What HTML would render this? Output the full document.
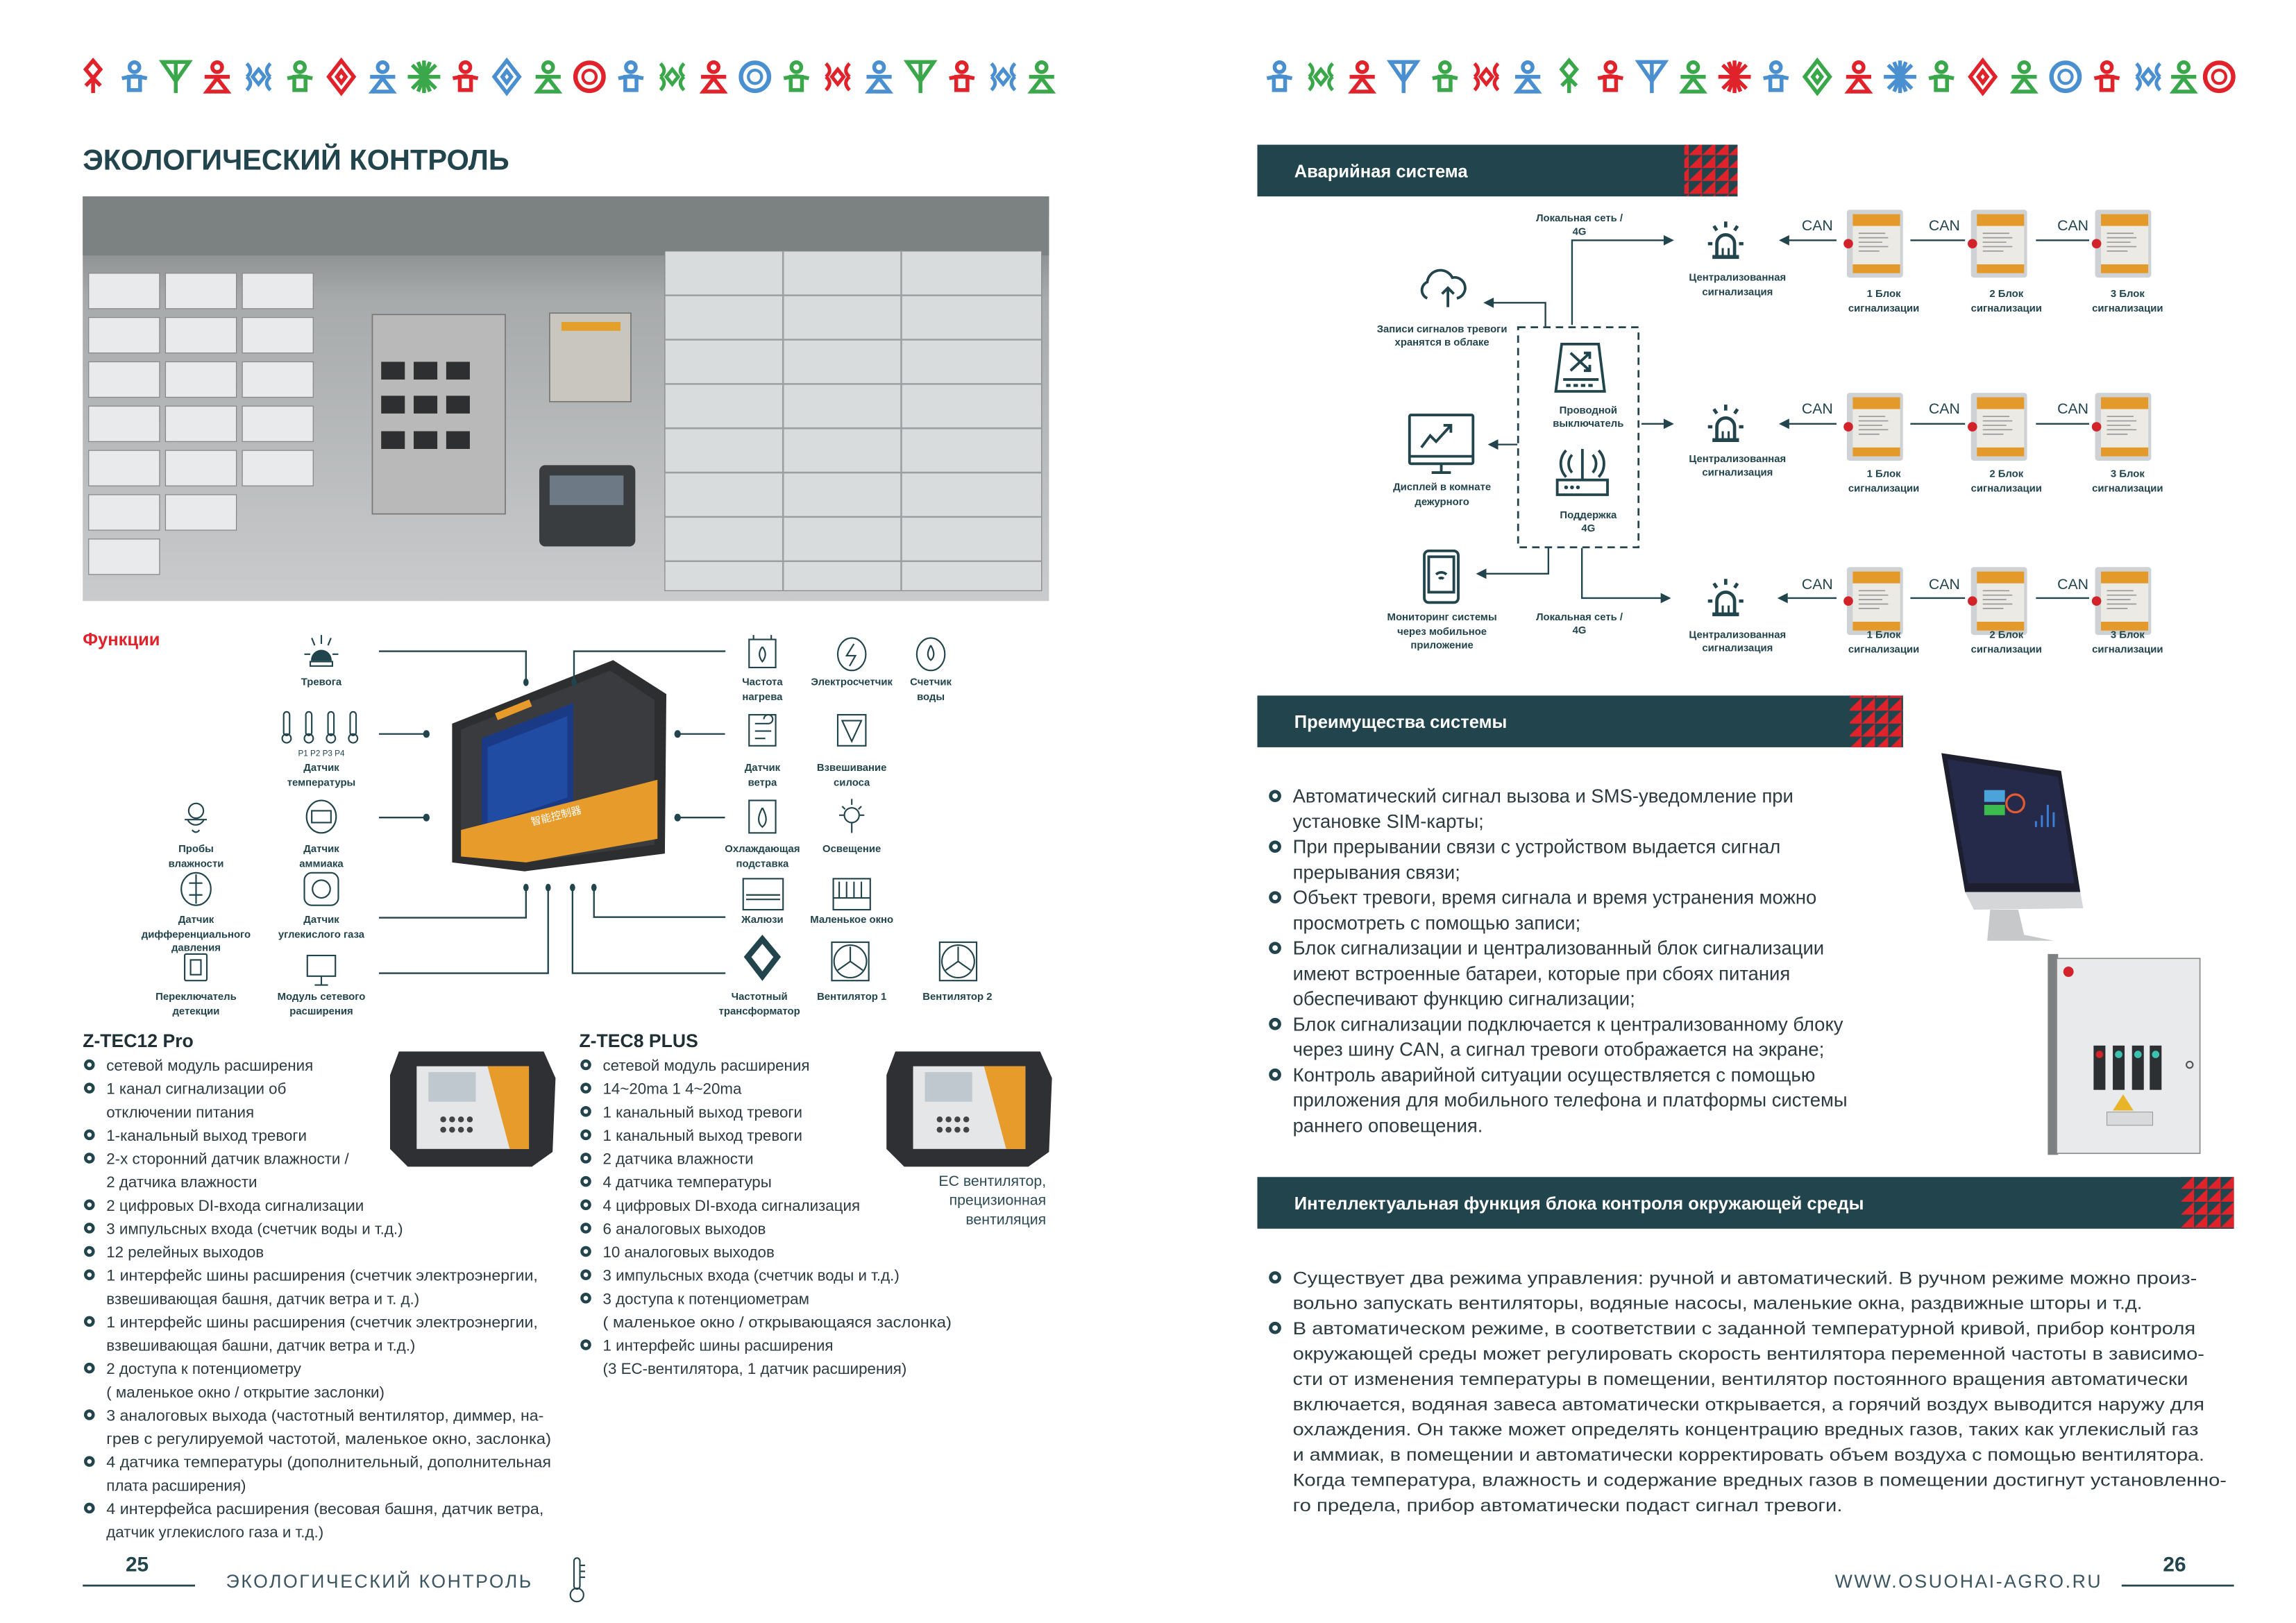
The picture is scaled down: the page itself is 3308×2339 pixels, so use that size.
<!DOCTYPE html>
<html><head><meta charset="utf-8"><style>
html,body{margin:0;padding:0;background:#fff;width:3308px;height:2339px;overflow:hidden}
svg{display:block}
text{font-family:"Liberation Sans",sans-serif}
</style></head><body>
<svg width="3308" height="2339" viewBox="0 0 1554 1099" preserveAspectRatio="none" xmlns="http://www.w3.org/2000/svg">
<defs>
<pattern id="tri" width="9" height="8.75" patternUnits="userSpaceOnUse">
<rect width="9" height="8.75" fill="#21444d"/><polygon points="9,0 9,8.75 0,8.75" fill="#e0222a"/></pattern>
<g id="pb" fill="none" stroke-width="2.6"><circle cx="0" cy="-6.5" r="3.3"/><path d="M-8.5 1 L0 -0.5 L8.5 1"/><rect x="-3.8" y="0" width="7.6" height="9"/></g>
<g id="pt" fill="none" stroke-width="2.6"><circle cx="0" cy="-6.5" r="3.3"/><path d="M-8.5 0 L8.5 0"/><polygon points="-7,10 7,10 0,1"/></g>
<g id="dm" fill="none" stroke-width="2.6"><polygon points="0,-11 8.5,0 0,11 -8.5,0"/><polygon points="0,-4 3,0 0,4 -3,0"/></g>
<g id="st" stroke-width="2.6"><path d="M0 -11V11M-11 0H11M-8 -8L8 8M-8 8L8 -8M-4 -10L4 10M4 -10L-4 10"/></g>
<g id="rn" fill="none" stroke-width="2.6"><polygon points="0,-11 5,-5 0,1 -5,-5"/><path d="M0 1V11M-5 6L0 1L5 6"/></g>
<g id="ci" fill="none" stroke-width="3"><circle r="9.5"/><circle r="4.5" stroke-width="2"/></g>
<g id="yy" fill="none" stroke-width="2.6"><polygon points="-9,-10 9,-10 0,3"/><path d="M0 -10V11"/></g>
<g id="sf" fill="none" stroke-width="2.4"><path d="M-8 -9 Q-3 -4 -8 0 M8 -9 Q3 -4 8 0 M-8 9 Q-3 4 -8 0 M8 9 Q3 4 8 0"/><polygon points="0,-5 4,0 0,5 -4,0"/></g>
<g id="blk"><rect x="0" y="0" width="38" height="46" rx="2" fill="#cfd2d4"/><rect x="4" y="3" width="32" height="40" fill="#eceae4"/><rect x="4" y="3" width="32" height="8" fill="#e39a2b"/><rect x="4" y="37" width="32" height="6" fill="#e39a2b"/><path d="M8 16h18M8 19h20M8 22h16M8 25h20M8 28h14" stroke="#999" stroke-width="0.8"/><circle cx="1" cy="23" r="3.2" fill="#d2232a"/></g>
<g id="bulb" fill="none" stroke="#21444d" stroke-width="2.2"><path d="M-6 9 V1 A6 6 0 0 1 6 1 V9"/><path d="M-9 10H9" stroke-width="2.6"/><path d="M0 -14V-10M-8 -11L-6 -8M8 -11L6 -8M-12 1H-9M9 1H12"/><path d="M-2 9V4M2 9V4" stroke-width="1.4"/></g>
</defs>

<g>
<use href="#rn" x="63" y="52" stroke="#e0222a"/>
<use href="#pb" x="91" y="52" stroke="#4a8fcf"/>
<use href="#yy" x="119" y="52" stroke="#3aa84a"/>
<use href="#pt" x="147" y="52" stroke="#e0222a"/>
<use href="#sf" x="175" y="52" stroke="#4a8fcf"/>
<use href="#pb" x="203" y="52" stroke="#3aa84a"/>
<use href="#dm" x="231" y="52" stroke="#e0222a"/>
<use href="#pt" x="259" y="52" stroke="#4a8fcf"/>
<use href="#st" x="287" y="52" stroke="#3aa84a"/>
<use href="#pb" x="315" y="52" stroke="#e0222a"/>
<use href="#dm" x="343" y="52" stroke="#4a8fcf"/>
<use href="#pt" x="371" y="52" stroke="#3aa84a"/>
<use href="#ci" x="399" y="52" stroke="#e0222a"/>
<use href="#pb" x="427" y="52" stroke="#4a8fcf"/>
<use href="#sf" x="455" y="52" stroke="#3aa84a"/>
<use href="#pt" x="483" y="52" stroke="#e0222a"/>
<use href="#ci" x="511" y="52" stroke="#4a8fcf"/>
<use href="#pb" x="539" y="52" stroke="#3aa84a"/>
<use href="#sf" x="567" y="52" stroke="#e0222a"/>
<use href="#pt" x="595" y="52" stroke="#4a8fcf"/>
<use href="#yy" x="623" y="52" stroke="#3aa84a"/>
<use href="#pb" x="651" y="52" stroke="#e0222a"/>
<use href="#sf" x="679" y="52" stroke="#4a8fcf"/>
<use href="#pt" x="705" y="52" stroke="#3aa84a"/>
</g>
<g>
<use href="#pb" x="866" y="52" stroke="#4a8fcf"/>
<use href="#sf" x="894" y="52" stroke="#3aa84a"/>
<use href="#pt" x="922" y="52" stroke="#e0222a"/>
<use href="#yy" x="950" y="52" stroke="#4a8fcf"/>
<use href="#pb" x="978" y="52" stroke="#3aa84a"/>
<use href="#sf" x="1006" y="52" stroke="#e0222a"/>
<use href="#pt" x="1034" y="52" stroke="#4a8fcf"/>
<use href="#rn" x="1062" y="52" stroke="#3aa84a"/>
<use href="#pb" x="1090" y="52" stroke="#e0222a"/>
<use href="#yy" x="1118" y="52" stroke="#4a8fcf"/>
<use href="#pt" x="1146" y="52" stroke="#3aa84a"/>
<use href="#st" x="1174" y="52" stroke="#e0222a"/>
<use href="#pb" x="1202" y="52" stroke="#4a8fcf"/>
<use href="#dm" x="1230" y="52" stroke="#3aa84a"/>
<use href="#pt" x="1258" y="52" stroke="#e0222a"/>
<use href="#st" x="1286" y="52" stroke="#4a8fcf"/>
<use href="#pb" x="1314" y="52" stroke="#3aa84a"/>
<use href="#dm" x="1342" y="52" stroke="#e0222a"/>
<use href="#pt" x="1370" y="52" stroke="#3aa84a"/>
<use href="#ci" x="1398" y="52" stroke="#4a8fcf"/>
<use href="#pb" x="1426" y="52" stroke="#e0222a"/>
<use href="#sf" x="1454" y="52" stroke="#4a8fcf"/>
<use href="#pt" x="1478" y="52" stroke="#3aa84a"/>
<use href="#ci" x="1502" y="52" stroke="#e0222a"/>
</g>

<text x="56" y="115" font-size="19.5" font-weight="bold" fill="#21444d">ЭКОЛОГИЧЕСКИЙ КОНТРОЛЬ</text>

<defs><linearGradient id="ph" x1="0" y1="0" x2="0" y2="1"><stop offset="0" stop-color="#6f7475"/><stop offset="0.25" stop-color="#a7aaab"/><stop offset="1" stop-color="#c9cbcc"/></linearGradient></defs>
<rect x="56" y="133" width="654" height="274" fill="url(#ph)"/>
<rect x="56" y="133" width="654" height="40" fill="#7c8182"/>
<g fill="#e8eaeb" stroke="#888" stroke-width="0.6">
<rect x="60" y="185" width="48" height="24"/><rect x="112" y="185" width="48" height="24"/><rect x="164" y="185" width="48" height="24"/>
<rect x="60" y="215" width="48" height="24"/><rect x="112" y="215" width="48" height="24"/><rect x="164" y="215" width="48" height="24"/>
<rect x="60" y="245" width="48" height="24"/><rect x="112" y="245" width="48" height="24"/><rect x="164" y="245" width="48" height="24"/>
<rect x="60" y="275" width="48" height="24"/><rect x="112" y="275" width="48" height="24"/><rect x="164" y="275" width="48" height="24"/>
<rect x="60" y="305" width="48" height="24"/><rect x="112" y="305" width="48" height="24"/><rect x="164" y="305" width="48" height="24"/>
<rect x="60" y="335" width="48" height="24"/><rect x="112" y="335" width="48" height="24"/>
<rect x="60" y="365" width="48" height="24"/>
<rect x="450" y="170" width="255" height="230" fill="#d9dcdd"/>
</g>
<g stroke="#9aa0a2" stroke-width="1.2"><path d="M450 200H705M450 230H705M450 260H705M450 290H705M450 320H705M450 350H705M450 380H705M530 170V400M610 170V400"/></g>
<rect x="252" y="213" width="90" height="135" fill="#b8b9b8" stroke="#777" stroke-width="0.8"/>
<g fill="#2d2f30"><rect x="258" y="245" width="16" height="12"/><rect x="280" y="245" width="16" height="12"/><rect x="302" y="245" width="16" height="12"/><rect x="258" y="268" width="16" height="12"/><rect x="280" y="268" width="16" height="12"/><rect x="302" y="268" width="16" height="12"/><rect x="258" y="292" width="16" height="12"/><rect x="280" y="292" width="16" height="12"/><rect x="302" y="292" width="16" height="12"/></g>
<rect x="372" y="212" width="55" height="60" fill="#c8c6bf" stroke="#777" stroke-width="0.8"/><rect x="380" y="218" width="40" height="6" fill="#e3a02a"/>
<rect x="365" y="315" width="65" height="55" rx="4" fill="#3a3d40"/><rect x="372" y="322" width="50" height="20" fill="#6d7a86"/>

<text x="56" y="437" font-size="12" font-weight="bold" fill="#e0222a">Функции</text>

<polygon points="306,490 415,447 451,470 450,578 355,590 306,584" fill="#2d2e30"/>
<polygon points="312,494 413,454 443,474 443,572 356,584 312,579" fill="#3a3b3e"/>
<polygon points="326,500 388,476 388,546 326,566" fill="#1b3a86"/>
<polygon points="330,506 384,485 384,540 330,558" fill="#2458b8" opacity="0.6"/>
<polygon points="312,562 445,528 445,568 356,584 312,580" fill="#e79b2b"/>
<text x="360" y="559" font-size="7" fill="#fff" transform="rotate(-14 360 559)">智能控制器</text>
<rect x="335" y="483" width="25" height="5" fill="#e79b2b" transform="rotate(-22 335 483)"/>

<g stroke="#21444d" stroke-width="1.1" fill="none">
<path d="M256.5 441H356V462"/>
<path d="M491 441H388.5V462"/>
<path d="M256.5 497H288.6"/><path d="M458.6 497H490.7"/>
<path d="M256.5 553.6H288.6"/><path d="M458.6 553.6H490.7"/>
<path d="M356 601V621.4H256.5"/>
<path d="M371 601V659H256.5"/>
<path d="M387.5 601V659H491"/>
<path d="M402 601V621H491"/>
</g>
<g fill="#21444d">
<ellipse cx="356" cy="462" rx="1.8" ry="2.6"/><ellipse cx="388.5" cy="462" rx="1.8" ry="2.6"/>
<ellipse cx="288.6" cy="497" rx="2.2" ry="2.6"/><ellipse cx="458.6" cy="497" rx="2.2" ry="2.6"/>
<ellipse cx="288.6" cy="553.6" rx="2.2" ry="2.6"/><ellipse cx="458.6" cy="553.6" rx="2.2" ry="2.6"/>
<ellipse cx="356" cy="601" rx="1.8" ry="2.6"/><ellipse cx="371" cy="601" rx="1.8" ry="2.6"/><ellipse cx="387.5" cy="601" rx="1.8" ry="2.6"/><ellipse cx="402" cy="601" rx="1.8" ry="2.6"/>
</g>

<g fill="none" stroke="#21444d" stroke-width="1">
<path d="M211 447 A6.5 6.5 0 0 1 224 447 Z" fill="#21444d"/><rect x="210" y="448" width="15" height="3"/><path d="M217.5 430V436M211 432L213 437M224 432L222 437M206 443H210M225 443H229"/>
<g><rect x="192" y="482" width="4" height="16" rx="2"/><circle cx="194" cy="500" r="3"/><rect x="207" y="482" width="4" height="16" rx="2"/><circle cx="209" cy="500" r="3"/><rect x="222" y="482" width="4" height="16" rx="2"/><circle cx="224" cy="500" r="3"/><rect x="237" y="482" width="4" height="16" rx="2"/><circle cx="239" cy="500" r="3"/></g>
<circle cx="132.7" cy="549" r="5"/><path d="M125 555H140M127 555A6 6 0 0 0 138 555M130 562Q132.7 565 135 562"/>
<ellipse cx="217.5" cy="553" rx="10" ry="11"/><rect x="211" y="549" width="13" height="8"/>
<ellipse cx="132.7" cy="602" rx="10" ry="11"/><path d="M132.7 592V612M128 598H137M128 606H137"/>
<rect x="206" y="591" width="23" height="22" rx="5"/><circle cx="217.5" cy="602" r="6"/>
<rect x="125" y="646" width="15" height="18" rx="1"/><rect x="129" y="650" width="7" height="10"/>
<rect x="208" y="647" width="19" height="14"/><path d="M217.5 661V667M213 667H222"/>
<rect x="507" y="433" width="18" height="19"/><path d="M510 433V430M522 433V430M516 438Q512 443 516 448Q520 443 516 438"/>
<ellipse cx="576.5" cy="443" rx="9.5" ry="11"/><path d="M578 436L573 444H579L575 451"/>
<ellipse cx="630" cy="443" rx="9.5" ry="11"/><path d="M630 437Q626 444 630 447Q634 444 630 437"/>
<rect x="507" y="484" width="18" height="21"/><path d="M511 490H520A3 3 0 1 0 517 487M511 495H522M511 500H518"/>
<rect x="567" y="484" width="19" height="21"/><path d="M570 488H583L576.5 502Z"/>
<rect x="507" y="542" width="18" height="22"/><path d="M516 547Q511 556 516 560Q521 556 516 547"/>
<circle cx="576.5" cy="552" r="5"/><path d="M576.5 541V545M576.5 557V564M568 552H571M582 552H585M570 546L572 548M583 546L581 548"/>
<rect x="503" y="595" width="27" height="21"/><path d="M505 606H528M505 609H528"/>
<rect x="564" y="595" width="25" height="21"/><path d="M568 597V608M573 597V608M578 597V608M583 597V608M564 608H589"/>
<rect x="563" y="638" width="25" height="26"/><circle cx="575.5" cy="651" r="11"/><path d="M575.5 651L575.5 641M575.5 651L567 657M575.5 651L584 657"/>
<rect x="636" y="638" width="25" height="26"/><circle cx="648.5" cy="651" r="11"/><path d="M648.5 651L648.5 641M648.5 651L640 657M648.5 651L657 657"/>
</g>
<polygon points="516,636 526,648 516,661 506,648" fill="none" stroke="#21444d" stroke-width="4"/>

<g font-size="7" fill="#21444d" text-anchor="middle" font-weight="bold">
<text x="217.5" y="464">Тревога</text>
<text x="217.5" y="512" font-size="5.5" font-weight="normal">P1   P2   P3   P4</text>
<text x="217.5" y="522">Датчик</text><text x="217.5" y="532">температуры</text>
<text x="132.7" y="577">Пробы</text><text x="132.7" y="587">влажности</text>
<text x="217.5" y="577">Датчик</text><text x="217.5" y="587">аммиака</text>
<text x="132.7" y="625">Датчик</text><text x="132.7" y="635">дифференциального</text><text x="132.7" y="644">давления</text>
<text x="217.5" y="625">Датчик</text><text x="217.5" y="635">углекислого газа</text>
<text x="132.7" y="677">Переключатель</text><text x="132.7" y="687">детекции</text>
<text x="217.5" y="677">Модуль сетевого</text><text x="217.5" y="687">расширения</text>
<text x="516" y="464">Частота</text><text x="516" y="474">нагрева</text>
<text x="576.5" y="464">Электросчетчик</text>
<text x="630" y="464">Счетчик</text><text x="630" y="474">воды</text>
<text x="516" y="522">Датчик</text><text x="516" y="532">ветра</text>
<text x="576.5" y="522">Взвешивание</text><text x="576.5" y="532">силоса</text>
<text x="516" y="577">Охлаждающая</text><text x="516" y="587">подставка</text>
<text x="576.5" y="577">Освещение</text>
<text x="516" y="625">Жалюзи</text>
<text x="576.5" y="625">Маленькое окно</text>
<text x="514" y="677">Частотный</text><text x="514" y="687">трансформатор</text>
<text x="576.5" y="677">Вентилятор 1</text>
<text x="648" y="677">Вентилятор 2</text>
</g>

<g>
<path d="M270 712 L368 712 L376 730 L374 780 L360 790 L276 790 L264 778 L264 728Z" fill="#2f3033"/>
<rect x="282" y="722" width="76" height="56" fill="#e4e6e8"/><polygon points="330,722 358,722 358,778 345,778" fill="#e79b2b"/><rect x="290" y="726" width="32" height="20" fill="#bfc7cf"/>
<g fill="#444"><circle cx="300" cy="758" r="2"/><circle cx="306" cy="758" r="2"/><circle cx="312" cy="758" r="2"/><circle cx="318" cy="758" r="2"/><circle cx="300" cy="765" r="2"/><circle cx="306" cy="765" r="2"/><circle cx="312" cy="765" r="2"/><circle cx="318" cy="765" r="2"/></g>
</g>
<g transform="translate(336 0)">
<path d="M270 712 L368 712 L376 730 L374 780 L360 790 L276 790 L264 778 L264 728Z" fill="#2f3033"/>
<rect x="282" y="722" width="76" height="56" fill="#e4e6e8"/><polygon points="330,722 358,722 358,778 345,778" fill="#e79b2b"/><rect x="290" y="726" width="32" height="20" fill="#bfc7cf"/>
<g fill="#444"><circle cx="300" cy="758" r="2"/><circle cx="306" cy="758" r="2"/><circle cx="312" cy="758" r="2"/><circle cx="318" cy="758" r="2"/><circle cx="300" cy="765" r="2"/><circle cx="306" cy="765" r="2"/><circle cx="312" cy="765" r="2"/><circle cx="318" cy="765" r="2"/></g>
</g>

<text x="56" y="709" font-size="12.5" font-weight="bold" fill="#1e2f35">Z-TEC12 Pro</text>
<text x="392" y="709" font-size="12.5" font-weight="bold" fill="#1e2f35">Z-TEC8 PLUS</text>
<g fill="none" stroke="#21444d" stroke-width="2.1">
<circle cx="60.5" cy="721" r="2.6"/><circle cx="60.5" cy="736.8" r="2.6"/><circle cx="60.5" cy="768.4" r="2.6"/><circle cx="60.5" cy="784.2" r="2.6"/><circle cx="60.5" cy="815.8" r="2.6"/><circle cx="60.5" cy="831.6" r="2.6"/><circle cx="60.5" cy="847.4" r="2.6"/><circle cx="60.5" cy="863.2" r="2.6"/><circle cx="60.5" cy="894.8" r="2.6"/><circle cx="60.5" cy="926.4" r="2.6"/><circle cx="60.5" cy="958" r="2.6"/><circle cx="60.5" cy="989.6" r="2.6"/><circle cx="60.5" cy="1021.2" r="2.6"/>
<circle cx="396.5" cy="721" r="2.6"/><circle cx="396.5" cy="736.8" r="2.6"/><circle cx="396.5" cy="752.6" r="2.6"/><circle cx="396.5" cy="768.4" r="2.6"/><circle cx="396.5" cy="784.2" r="2.6"/><circle cx="396.5" cy="800" r="2.6"/><circle cx="396.5" cy="815.8" r="2.6"/><circle cx="396.5" cy="831.6" r="2.6"/><circle cx="396.5" cy="847.4" r="2.6"/><circle cx="396.5" cy="863.2" r="2.6"/><circle cx="396.5" cy="879" r="2.6"/><circle cx="396.5" cy="910.6" r="2.6"/>
</g>
<g font-size="10.5" fill="#2c3b40">
<text x="72" y="725">сетевой модуль расширения</text>
<text x="72" y="740.8">1 канал сигнализации об</text>
<text x="72" y="756.6">отключении питания</text>
<text x="72" y="772.4">1-канальный выход тревоги</text>
<text x="72" y="788.2">2-х сторонний датчик влажности /</text>
<text x="72" y="804">2 датчика влажности</text>
<text x="72" y="819.8">2 цифровых DI-входа сигнализации</text>
<text x="72" y="835.6">3 импульсных входа (счетчик воды и т.д.)</text>
<text x="72" y="851.4">12 релейных выходов</text>
<text x="72" y="867.2" textLength="292" lengthAdjust="spacingAndGlyphs">1 интерфейс шины расширения (счетчик электроэнергии,</text>
<text x="72" y="883">взвешивающая башня, датчик ветра и т. д.)</text>
<text x="72" y="898.8" textLength="292" lengthAdjust="spacingAndGlyphs">1 интерфейс шины расширения (счетчик электроэнергии,</text>
<text x="72" y="914.6">взвешивающая башни, датчик ветра и т.д.)</text>
<text x="72" y="930.4">2 доступа к потенциометру</text>
<text x="72" y="946.2">( маленькое окно / открытие заслонки)</text>
<text x="72" y="962" textLength="296" lengthAdjust="spacingAndGlyphs">3 аналоговых выхода (частотный вентилятор, диммер, на-</text>
<text x="72" y="977.8" textLength="301" lengthAdjust="spacingAndGlyphs">грев с регулируемой частотой, маленькое окно, заслонка)</text>
<text x="72" y="993.6" textLength="301" lengthAdjust="spacingAndGlyphs">4 датчика температуры (дополнительный, дополнительная</text>
<text x="72" y="1009.4">плата расширения)</text>
<text x="72" y="1025.2" textLength="296" lengthAdjust="spacingAndGlyphs">4 интерфейса расширения (весовая башня, датчик ветра,</text>
<text x="72" y="1041">датчик углекислого газа и т.д.)</text>
<text x="408" y="725">сетевой модуль расширения</text>
<text x="408" y="740.8">14~20ma 1 4~20ma</text>
<text x="408" y="756.6">1 канальный выход тревоги</text>
<text x="408" y="772.4">1 канальный выход тревоги</text>
<text x="408" y="788.2">2 датчика влажности</text>
<text x="408" y="804">4 датчика температуры</text>
<text x="408" y="819.8">4 цифровых DI-входа сигнализация</text>
<text x="408" y="835.6">6 аналоговых выходов</text>
<text x="408" y="851.4">10 аналоговых выходов</text>
<text x="408" y="867.2">3 импульсных входа (счетчик воды и т.д.)</text>
<text x="408" y="883">3 доступа к потенциометрам</text>
<text x="408" y="898.8" textLength="236" lengthAdjust="spacingAndGlyphs">( маленькое окно / открывающаяся заслонка)</text>
<text x="408" y="914.6">1 интерфейс шины расширения</text>
<text x="408" y="930.4">(3 ЕС-вентилятора, 1 датчик расширения)</text>
</g>
<g font-size="10" fill="#2c4b55" text-anchor="end">
<text x="708" y="803">ЕС вентилятор,</text><text x="708" y="816">прецизионная</text><text x="708" y="829">вентиляция</text>
</g>

<text x="85" y="1064" font-size="14" font-weight="bold" fill="#21444d">25</text>
<rect x="56" y="1073" width="76" height="1.3" fill="#21444d"/>
<text x="153" y="1075" font-size="12.5" fill="#3a5560" letter-spacing="1.2">ЭКОЛОГИЧЕСКИЙ КОНТРОЛЬ</text>
<g fill="none" stroke="#21444d" stroke-width="1"><rect x="388.5" y="1055" width="4" height="21" rx="2"/><circle cx="390.5" cy="1080" r="4.5"/><path d="M393 1060h3M393 1064h3M393 1068h3"/></g>

<rect x="851" y="98" width="325" height="35" fill="#21444d"/><rect x="1140" y="98" width="36" height="35" fill="url(#tri)"/>
<text x="876" y="120" font-size="12" font-weight="bold" fill="#fff">Аварийная система</text>
<rect x="851" y="471" width="437" height="35" fill="#21444d"/><rect x="1252" y="471" width="36" height="35" fill="url(#tri)"/>
<text x="876" y="493" font-size="12" font-weight="bold" fill="#fff">Преимущества системы</text>
<rect x="851" y="797" width="661" height="35" fill="#21444d"/><rect x="1476" y="797" width="36" height="35" fill="url(#tri)"/>
<text x="876" y="819" font-size="12" font-weight="bold" fill="#fff">Интеллектуальная функция блока контроля окружающей среды</text>

<g stroke="#21444d" stroke-width="1.1" fill="none">
<rect x="1027.5" y="221.6" width="81.5" height="149" stroke-dasharray="5,3.5" stroke-width="1.3"/>
<path d="M1064 220V162.7H1127"/>
<path d="M1046 221V205H1009"/>
<path d="M1027 301H1012"/>
<path d="M1111 287H1129"/>
<path d="M1048 371V388.5H1004"/>
<path d="M1070.7 371V405H1125"/>
<path d="M1243 162.7H1210M1293 162.7H1330M1378 162.7H1414"/>
<path d="M1243 287H1210M1293 287H1330M1378 287H1414"/>
<path d="M1243 405H1210M1293 405H1330M1378 405H1414"/>
</g>
<g fill="#21444d">
<polygon points="1133,162.7 1126,159.2 1126,166.2"/>
<polygon points="1004,205 1011,201.5 1011,208.5"/>
<polygon points="1007,301 1014,297.5 1014,304.5"/>
<polygon points="1133,287 1126,283.5 1126,290.5"/>
<polygon points="999,388.5 1006,385 1006,392"/>
<polygon points="1131,405 1124,401.5 1124,408.5"/>
<polygon points="1204,162.7 1211,159.2 1211,166.2"/>
<polygon points="1204,287 1211,283.5 1211,290.5"/>
<polygon points="1203,405 1210,401.5 1210,408.5"/>
</g>
<use href="#bulb" x="1168" y="164"/><use href="#bulb" x="1168" y="288"/><use href="#bulb" x="1168" y="406"/>
<use href="#blk" x="1250" y="142"/><use href="#blk" x="1334" y="142"/><use href="#blk" x="1418" y="142"/>
<use href="#blk" x="1250" y="266"/><use href="#blk" x="1334" y="266"/><use href="#blk" x="1418" y="266"/>
<use href="#blk" x="1250" y="384"/><use href="#blk" x="1334" y="384"/><use href="#blk" x="1418" y="384"/>
<g fill="none" stroke="#21444d" stroke-width="1.8">
<path d="M966 202 A6 6 0 0 1 966 191 A9 9 0 0 1 983 188 A7 7 0 0 1 986 202"/><path d="M980 208V195M976 199L980 195L984 199"/>
<rect x="954" y="281" width="43" height="33" rx="1"/><path d="M954 309H997M975.5 314V320M969 320H982"/><path d="M962 303L968 295L972 299L982 288M977 288H982V293"/>
<rect x="964" y="373" width="23" height="35" rx="3"/><rect x="967" y="377" width="17" height="24"/><path d="M972 389A5 5 0 0 1 979 389M974 392A2 2 0 0 1 977 392"/>
<path d="M1057 233H1082L1086 265H1053Z"/><path d="M1058 257H1082"/><path d="M1063 239L1076 251M1063 251L1076 239M1072 239H1076V243M1072 251H1076V247"/>
<path d="M1054 325H1088V335H1054Z"/><path d="M1071 325V304"/><path d="M1064 308A9 9 0 0 0 1064 320M1078 308A9 9 0 0 1 1078 320M1060 305A13 13 0 0 0 1060 323M1082 305A13 13 0 0 1 1082 323"/>
</g>
<g fill="#21444d"><rect x="1060" y="260" width="3" height="2"/><rect x="1065" y="260" width="3" height="2"/><rect x="1070" y="260" width="3" height="2"/><rect x="1075" y="260" width="3" height="2"/><circle cx="1060" cy="330" r="1.3"/><circle cx="1064" cy="330" r="1.3"/><circle cx="1068" cy="330" r="1.3"/></g>

<g font-size="7" fill="#21444d" text-anchor="middle" font-weight="bold">
<text x="1069" y="150">Локальная сеть /</text><text x="1069" y="159">4G</text>
<text x="1176" y="190">Централизованная</text><text x="1176" y="200">сигнализация</text>
<text x="1176" y="313">Централизованная</text><text x="1176" y="322">сигнализация</text>
<text x="1176" y="432">Централизованная</text><text x="1176" y="441">сигнализация</text>
<text x="976" y="225">Записи сигналов тревоги</text><text x="976" y="234">хранятся в облаке</text>
<text x="1075" y="280">Проводной</text><text x="1075" y="289">выключатель</text>
<text x="1075" y="351">Поддержка</text><text x="1075" y="360">4G</text>
<text x="976" y="332">Дисплей в комнате</text><text x="976" y="342">дежурного</text>
<text x="976" y="420">Мониторинг системы</text><text x="976" y="430">через мобильное</text><text x="976" y="439">приложение</text>
<text x="1069" y="420">Локальная сеть /</text><text x="1069" y="429">4G</text>
<text x="1275" y="201">1 Блок</text><text x="1275" y="211">сигнализации</text>
<text x="1358" y="201">2 Блок</text><text x="1358" y="211">сигнализации</text>
<text x="1440" y="201">3 Блок</text><text x="1440" y="211">сигнализации</text>
<text x="1275" y="323">1 Блок</text><text x="1275" y="333">сигнализации</text>
<text x="1358" y="323">2 Блок</text><text x="1358" y="333">сигнализации</text>
<text x="1440" y="323">3 Блок</text><text x="1440" y="333">сигнализации</text>
<text x="1275" y="432">1 Блок</text><text x="1275" y="442">сигнализации</text>
<text x="1358" y="432">2 Блок</text><text x="1358" y="442">сигнализации</text>
<text x="1440" y="432">3 Блок</text><text x="1440" y="442">сигнализации</text>
</g>
<g font-size="10" fill="#21444d" text-anchor="middle">
<text x="1230" y="156">CAN</text><text x="1316" y="156">CAN</text><text x="1403" y="156">CAN</text>
<text x="1230" y="280">CAN</text><text x="1316" y="280">CAN</text><text x="1403" y="280">CAN</text>
<text x="1230" y="399">CAN</text><text x="1316" y="399">CAN</text><text x="1403" y="399">CAN</text>
</g>

<g fill="none" stroke="#21444d" stroke-width="2.3"><circle cx="863" cy="539" r="3"/><circle cx="863" cy="573.3" r="3"/><circle cx="863" cy="607.6" r="3"/><circle cx="863" cy="641.9" r="3"/><circle cx="863" cy="693.4" r="3"/><circle cx="863" cy="727.7" r="3"/>
<circle cx="863" cy="865" r="3"/><circle cx="863" cy="899.2" r="3"/></g>
<g font-size="12.9" fill="#2c3b40">
<text x="875" y="543.5">Автоматический сигнал вызова и SMS-уведомление при</text>
<text x="875" y="560.6">установке SIM-карты;</text>
<text x="875" y="577.8">При прерывании связи с устройством выдается сигнал</text>
<text x="875" y="595">прерывания связи;</text>
<text x="875" y="612.1">Объект тревоги, время сигнала и время устранения можно</text>
<text x="875" y="629.3">просмотреть с помощью записи;</text>
<text x="875" y="646.4">Блок сигнализации и централизованный блок сигнализации</text>
<text x="875" y="663.6">имеют встроенные батареи, которые при сбоях питания</text>
<text x="875" y="680.7">обеспечивают функцию сигнализации;</text>
<text x="875" y="697.9">Блок сигнализации подключается к централизованному блоку</text>
<text x="875" y="715">через шину CAN, а сигнал тревоги отображается на экране;</text>
<text x="875" y="732.2">Контроль аварийной ситуации осуществляется с помощью</text>
<text x="875" y="749.3">приложения для мобильного телефона и платформы системы</text>
<text x="875" y="766.5">раннего оповещения.</text>
</g>
<g font-size="11.8" fill="#2c3b40">
<text x="875" y="869.4" textLength="612" lengthAdjust="spacingAndGlyphs">Существует два режима управления: ручной и автоматический. В ручном режиме можно произ-</text>
<text x="875" y="886.5" textLength="575" lengthAdjust="spacingAndGlyphs">вольно запускать вентиляторы, водяные насосы, маленькие окна, раздвижные шторы и т.д.</text>
<text x="875" y="903.6" textLength="611" lengthAdjust="spacingAndGlyphs">В автоматическом режиме, в соответствии с заданной температурной кривой, прибор контроля</text>
<text x="875" y="920.7" textLength="617" lengthAdjust="spacingAndGlyphs">окружающей среды может регулировать скорость вентилятора переменной частоты в зависимо-</text>
<text x="875" y="937.8" textLength="606" lengthAdjust="spacingAndGlyphs">сти от изменения температуры в помещении, вентилятор постоянного вращения автоматически</text>
<text x="875" y="954.9" textLength="617" lengthAdjust="spacingAndGlyphs">включается, водяная завеса автоматически открывается, а горячий воздух выводится наружу для</text>
<text x="875" y="972" textLength="613" lengthAdjust="spacingAndGlyphs">охлаждения. Он также может определять концентрацию вредных газов, таких как углекислый газ</text>
<text x="875" y="989.1" textLength="617" lengthAdjust="spacingAndGlyphs">и аммиак, в помещении и автоматически корректировать объем воздуха с помощью вентилятора.</text>
<text x="875" y="1006.2" textLength="632" lengthAdjust="spacingAndGlyphs">Когда температура, влажность и содержание вредных газов в помещении достигнут установленно-</text>
<text x="875" y="1023.3" textLength="372" lengthAdjust="spacingAndGlyphs">го предела, прибор автоматически подаст сигнал тревоги.</text>
</g>

<polygon points="1314,510 1395,522 1408,604 1330,604" fill="#1d1f2e"/>
<polygon points="1318,514 1393,526 1404,598 1332,598" fill="#25294a"/>
<rect x="1343" y="535" width="14" height="8" fill="#4aa3d9"/><rect x="1343" y="545" width="14" height="7" fill="#3dbb4e"/>
<circle cx="1364" cy="544" r="6" fill="none" stroke="#e45a33" stroke-width="1.5"/>
<g stroke="#3b7fd4" stroke-width="1.4"><path d="M1382 560V552M1386 560V545M1390 560V550M1378 560V556"/></g>
<polygon points="1330,604 1408,604 1410,615 1336,616" fill="#d4d6d8"/>
<polygon points="1347,616 1366,616 1370,633 1390,637 1345,637" fill="#c6c8ca"/>
<rect x="1386" y="646" width="7" height="136" fill="#7d8082"/>
<rect x="1392" y="649" width="97" height="132" fill="#e9eaeb" stroke="#8a8c8e" stroke-width="0.8"/>
<circle cx="1400" cy="658" r="3.5" fill="#d2232a"/>
<g fill="#2d3033"><rect x="1417" y="708" width="8" height="30"/><rect x="1430" y="708" width="8" height="30"/><rect x="1443" y="708" width="8" height="30"/><rect x="1455" y="708" width="8" height="30"/></g>
<circle cx="1421" cy="714" r="2.5" fill="#d2232a"/><circle cx="1434" cy="714" r="2.5" fill="#3cc2b0"/><circle cx="1447" cy="714" r="2.5" fill="#3cc2b0"/><circle cx="1459" cy="714" r="2.5" fill="#3cc2b0"/>
<polygon points="1437,741 1444,752 1430,752" fill="#e8b42a"/>
<rect x="1426" y="753" width="31" height="9" fill="#d8dadc" stroke="#999" stroke-width="0.5"/>
<circle cx="1482" cy="721" r="2.2" fill="none" stroke="#555" stroke-width="1"/>

<text x="1423" y="1075" font-size="12.5" fill="#3a5560" letter-spacing="1.2" text-anchor="end">WWW.OSUOHAI-AGRO.RU</text>
<text x="1464" y="1064" font-size="14" font-weight="bold" fill="#21444d">26</text>
<rect x="1436" y="1073" width="76" height="1.3" fill="#21444d"/>
</svg>
</body></html>
